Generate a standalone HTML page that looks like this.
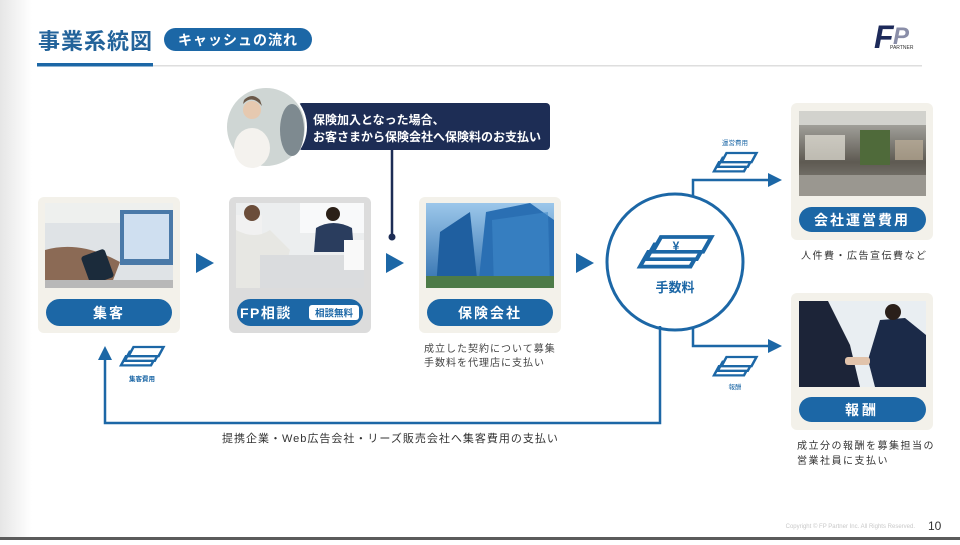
<!DOCTYPE html>
<html><head><meta charset="utf-8"><style>
body{margin:0;width:960px;height:540px;overflow:hidden;background:#fff;font-family:"Liberation Sans","Noto Sans CJK JP",sans-serif;}
svg text{font-family:"Liberation Sans","Noto Sans CJK JP",sans-serif;}
</style></head><body>
<svg width="960" height="540" viewBox="0 0 960 540" xmlns="http://www.w3.org/2000/svg">
<defs>
<linearGradient id="ls" x1="0" x2="1"><stop offset="0" stop-color="#e6e6e6"/><stop offset="1" stop-color="#fff"/></linearGradient>
<linearGradient id="sky" x1="0" y1="0" x2="0" y2="1"><stop offset="0" stop-color="#9cc7ea"/><stop offset="1" stop-color="#2f6fae"/></linearGradient>
<linearGradient id="off" x1="0" y1="0" x2="0" y2="1"><stop offset="0" stop-color="#b9b9b4"/><stop offset="0.6" stop-color="#5e5a52"/><stop offset="1" stop-color="#8d8a84"/></linearGradient>
<g id="money"><path d="M4 8 L28 8 L24 16 L0 16 Z" fill="#fff" stroke="#1c67a6" stroke-width="2"/><path d="M7 4 L31 4 L27 12 L3 12 Z" fill="#fff" stroke="#1c67a6" stroke-width="2"/><path d="M10 0 L34 0 L30 8 L6 8 Z" fill="#fff" stroke="#1c67a6" stroke-width="2"/></g>
</defs>
<rect x="0" y="0" width="32" height="540" fill="url(#ls)"/>
<rect x="0" y="537" width="960" height="3" fill="#5b5b5b"/>
<!-- header -->
<text x="38" y="49" font-size="22" font-weight="bold" fill="#23639a" letter-spacing="1">事業系統図</text>
<rect x="164" y="28" width="148" height="23" rx="11.5" fill="#1c67a6"/>
<text x="238" y="45" font-size="14" font-weight="bold" fill="#fff" text-anchor="middle" letter-spacing="1">キャッシュの流れ</text>
<rect x="153" y="65" width="769" height="1.5" fill="#dedede"/>
<rect x="37" y="63" width="116" height="3.5" fill="#1c67a6"/>
<!-- logo -->
<text x="874" y="48" font-size="32" font-weight="bold" font-style="italic" fill="#1d2a5a">F</text>
<text x="893" y="44" font-size="24" font-weight="bold" font-style="italic" fill="#8a8ea8">P</text>
<text x="890" y="49" font-size="5" fill="#333">PARTNER</text>
<!-- callout -->
<rect x="298" y="103" width="252" height="47" rx="4" fill="#1d2d55"/>
<text x="313" y="124" font-size="12" font-weight="bold" fill="#fff">保険加入となった場合、</text>
<text x="313" y="141" font-size="12" font-weight="bold" fill="#fff">お客さまから保険会社へ保険料のお支払い</text>
<line x1="392" y1="150" x2="392" y2="237" stroke="#1d2d55" stroke-width="2.5"/>
<circle cx="392" cy="237" r="3.5" fill="#1d2d55"/>
<circle cx="266" cy="127" r="40" fill="#cfd6d4"/>
<circle cx="266" cy="127" r="40" fill="none" stroke="#fff" stroke-width="2"/>
<ellipse cx="252" cy="148" rx="18" ry="20" fill="#f4f2ee"/>
<circle cx="252" cy="110" r="9" fill="#e6c9b0"/>
<path d="M243 104 Q252 94 262 106 L260 100 Q252 92 244 100Z" fill="#6b5848"/>
<ellipse cx="292" cy="130" rx="12" ry="26" fill="#7e8a90"/>
<!-- cards -->
<rect x="38" y="197" width="142" height="136" rx="6" fill="#f3f1ea"/>
<rect x="229" y="197" width="142" height="136" rx="6" fill="#dcdcdc"/>
<rect x="419" y="197" width="142" height="136" rx="6" fill="#f3f1ea"/>
<!-- img1 -->
<rect x="45" y="203" width="128" height="85" fill="#dfe3e6"/>
<rect x="45" y="203" width="128" height="20" fill="#eef0ee"/>
<rect x="120" y="210" width="53" height="55" fill="#4a79a8"/>
<rect x="124" y="214" width="45" height="45" fill="#cfdff0"/>
<path d="M45 250 Q80 240 120 262 L110 288 L45 288Z" fill="#8b6a55"/>
<rect x="85" y="252" width="25" height="30" rx="3" fill="#1b2b3b" transform="rotate(-20 97 267)"/>
<rect x="45" y="280" width="128" height="8" fill="#b8b8b8"/>
<!-- img2 -->
<rect x="236" y="203" width="128" height="85" fill="#eceeef"/>
<rect x="300" y="203" width="64" height="30" fill="#f8f9fa"/>
<path d="M236 215 L262 215 L262 288 L236 288Z" fill="#f1f1f1"/>
<path d="M236 230 Q255 240 270 230 L290 250 L280 288 L236 288Z" fill="#e7e7e3"/>
<circle cx="252" cy="213" r="8" fill="#6b4d3a"/>
<circle cx="333" cy="214" r="7" fill="#2b2018"/>
<path d="M316 228 Q333 218 352 228 L354 252 L314 252Z" fill="#2a3d5e"/>
<rect x="260" y="255" width="104" height="33" fill="#dadcde"/>
<rect x="344" y="240" width="20" height="30" fill="#f9f9f9"/>
<!-- img3 -->
<rect x="426" y="203" width="128" height="85" fill="url(#sky)"/>
<path d="M436 288 L440 232 L470 212 L478 288Z" fill="#1f5fa0"/>
<path d="M478 288 L486 212 L530 203 L554 220 L554 288Z" fill="#2a6fb3"/>
<path d="M492 220 L548 212 L550 288 L494 288Z" fill="#3f88c8" opacity="0.6"/>
<rect x="426" y="276" width="128" height="12" fill="#4d7b48"/>
<!-- pills -->
<rect x="46" y="299" width="126" height="27" rx="13.5" fill="#1c67a6"/>
<text x="109" y="318" font-size="14" font-weight="bold" fill="#fff" text-anchor="middle" letter-spacing="2">集客</text>
<rect x="237" y="299" width="126" height="27" rx="13.5" fill="#1c67a6"/>
<text x="240" y="318" font-size="14" font-weight="bold" fill="#fff" letter-spacing="1.5">FP相談</text>
<rect x="309" y="305" width="50" height="15" rx="3" fill="#fff"/>
<text x="334" y="316.5" font-size="9.5" font-weight="bold" fill="#1c67a6" text-anchor="middle">相談無料</text>
<rect x="427" y="299" width="126" height="27" rx="13.5" fill="#1c67a6"/>
<text x="490" y="318" font-size="14" font-weight="bold" fill="#fff" text-anchor="middle" letter-spacing="2">保険会社</text>
<!-- triangles -->
<path d="M196 253 L214 263 L196 273Z" fill="#1c67a6"/>
<path d="M386 253 L404 263 L386 273Z" fill="#1c67a6"/>
<path d="M576 253 L594 263 L576 273Z" fill="#1c67a6"/>
<!-- text under insurer -->
<text x="424" y="352" font-size="10" fill="#444" letter-spacing="1">成立した契約について募集</text>
<text x="424" y="366" font-size="10" fill="#444" letter-spacing="1">手数料を代理店に支払い</text>
<!-- fee circle -->
<circle cx="675" cy="262" r="68" fill="#fff" stroke="#1c67a6" stroke-width="3"/>
<g transform="translate(640,237) scale(2.1,1.85)">
<use href="#money"/>
</g>
<text x="676" y="250" font-size="12" font-weight="bold" fill="#1c67a6" text-anchor="middle">¥</text>
<text x="675" y="292" font-size="13" font-weight="bold" fill="#1c67a6" text-anchor="middle">手数料</text>
<!-- arrows right -->
<path d="M693 196 L693 180 L770 180" fill="none" stroke="#1c67a6" stroke-width="2.5"/>
<path d="M768 173 L782 180 L768 187Z" fill="#1c67a6"/>
<path d="M693 328 L693 346 L770 346" fill="none" stroke="#1c67a6" stroke-width="2.5"/>
<path d="M768 339 L782 346 L768 353Z" fill="#1c67a6"/>
<text x="735" y="145" font-size="6.5" fill="#1c67a6" text-anchor="middle">運営費用</text>
<g transform="translate(714,153) scale(1.25,1.15)"><use href="#money"/></g>
<g transform="translate(714,357) scale(1.25,1.15)"><use href="#money"/></g>
<text x="735" y="389" font-size="6.5" fill="#1c67a6" text-anchor="middle">報酬</text>
<!-- bottom loop -->
<path d="M660 326 L660 423 L105 423 L105 358" fill="none" stroke="#1c67a6" stroke-width="2.5"/>
<path d="M98 360 L105 346 L112 360Z" fill="#1c67a6"/>
<g transform="translate(121,347) scale(1.25,1.15)"><use href="#money"/></g>
<text x="142" y="381" font-size="6.5" font-weight="bold" fill="#1c67a6" text-anchor="middle">集客費用</text>
<text x="222" y="442" font-size="11" fill="#333" letter-spacing="1">提携企業・Web広告会社・リーズ販売会社へ集客費用の支払い</text>
<!-- right cards -->
<rect x="791" y="103" width="142" height="137" rx="6" fill="#f3f1ea"/>
<rect x="799" y="111" width="127" height="85" fill="url(#off)"/>
<rect x="799" y="111" width="127" height="14" fill="#d2d2cd"/>
<rect x="860" y="130" width="30" height="35" fill="#4f6a3a"/>
<rect x="805" y="135" width="40" height="25" fill="#e6e2d8" opacity="0.7"/>
<rect x="895" y="140" width="28" height="20" fill="#c9b9a0" opacity="0.6"/>
<rect x="799" y="175" width="127" height="21" fill="#9a9790"/>
<rect x="799" y="207" width="127" height="25" rx="12.5" fill="#1c67a6"/>
<text x="862" y="225" font-size="14" font-weight="bold" fill="#fff" text-anchor="middle" letter-spacing="2">会社運営費用</text>
<text x="801" y="259" font-size="10" fill="#333" letter-spacing="1.5">人件費・広告宣伝費など</text>
<rect x="791" y="293" width="142" height="137" rx="6" fill="#f3f1ea"/>
<rect x="799" y="301" width="127" height="86" fill="#e9eef2"/>
<path d="M799 301 L828 301 L850 345 L860 387 L799 387Z" fill="#1c2438"/>
<path d="M880 320 L905 318 L926 335 L926 387 L875 387 L868 360Z" fill="#1b2a48"/>
<circle cx="893" cy="312" r="8" fill="#2a1f1a"/>
<rect x="845" y="357" width="25" height="8" rx="3" fill="#e1c3ab"/>
<rect x="799" y="397" width="127" height="25" rx="12.5" fill="#1c67a6"/>
<text x="862" y="415" font-size="14" font-weight="bold" fill="#fff" text-anchor="middle" letter-spacing="3">報酬</text>
<text x="797" y="449" font-size="10" fill="#333" letter-spacing="1.5">成立分の報酬を募集担当の</text>
<text x="797" y="464" font-size="10" fill="#333" letter-spacing="1.5">営業社員に支払い</text>
<!-- footer -->
<text x="915" y="528" font-size="6" fill="#c8c8c8" text-anchor="end">Copyright © FP Partner Inc. All Rights Reserved.</text>
<text x="928" y="530" font-size="12" fill="#333">10</text>
</svg>
</body></html>
